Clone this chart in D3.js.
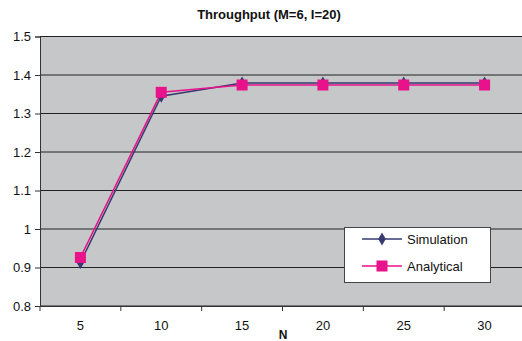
<!DOCTYPE html>
<html><head><meta charset="utf-8">
<script src="https://cdn.jsdelivr.net/npm/d3@7"></script>
<style>body{margin:0;background:#fff}svg{display:block;font-family:Arial,"Liberation Sans",sans-serif}</style>
</head><body>
<svg id="c" width="522" height="341"></svg>
<script>
const categories = [5, 10, 15, 20, 25, 30];
const simulation = [0.913, 1.345, 1.379, 1.379, 1.379, 1.379];
const analytical = [0.926, 1.355, 1.374, 1.374, 1.374, 1.374];
const yTicks = [0.8, 0.9, 1, 1.1, 1.2, 1.3, 1.4, 1.5];
const seriesNames = ["Simulation", "Analytical"];

const svg = d3.select("#c");
const L = 40, R = 525, T = 36.5, B = 306;
const x = d3.scaleBand().domain(categories).range([L, R]);
const y = d3.scaleLinear().domain([0.8, 1.5]).range([B, T]);

svg.append("rect").attr("x", L).attr("y", T).attr("width", R - L).attr("height", B - T).attr("fill", "#c6c7c9");

svg.append("g").selectAll("line").data(yTicks).join("line")
  .attr("x1", L).attr("x2", R).attr("y1", d => y(d)).attr("y2", d => y(d))
  .attr("stroke", "#222").attr("stroke-width", 1);

const ya = svg.append("g").attr("transform", `translate(${L},0)`)
  .call(d3.axisLeft(y).tickValues(yTicks).tickSize(5).tickPadding(4).tickFormat(d => String(d)));
ya.select(".domain").attr("stroke", "#333");
ya.selectAll("line").attr("stroke", "#333");
ya.selectAll("text").attr("font-size", 13).attr("fill", "#111").attr("font-family", "Arial, Liberation Sans, sans-serif");

const xa = svg.append("g").attr("transform", `translate(0,${B})`)
  .call(d3.axisBottom(x).tickSize(0).tickPadding(15));
xa.select(".domain").attr("stroke", "#333");
xa.selectAll("text").attr("font-size", 13).attr("fill", "#111").attr("font-family", "Arial, Liberation Sans, sans-serif");
const bounds = categories.map(c => x(c));
svg.append("g").selectAll("line").data(bounds).join("line")
  .attr("x1", d => d).attr("x2", d => d).attr("y1", B).attr("y2", B + 5).attr("stroke", "#333");

const cx = c => x(c) + x.bandwidth() / 2;
const line = d3.line().x((d, i) => cx(categories[i])).y(d => y(d));

const simColor = "#363a70", anaColor = "#e8128a";
svg.append("path").datum(simulation).attr("d", line).attr("fill", "none").attr("stroke", simColor).attr("stroke-width", 1.5);
svg.append("path").datum(analytical).attr("d", line).attr("fill", "none").attr("stroke", anaColor).attr("stroke-width", 1.5);

const diamond = d3.symbol().type(d3.symbolDiamond).size(50);
svg.append("g").selectAll("path").data(simulation).join("path")
  .attr("d", diamond).attr("transform", (d, i) => `translate(${cx(categories[i])},${y(d)})`).attr("fill", simColor);
svg.append("g").selectAll("rect").data(analytical).join("rect")
  .attr("x", (d, i) => cx(categories[i]) - 5.5).attr("y", d => y(d) - 5.5)
  .attr("width", 11).attr("height", 11).attr("fill", anaColor);

svg.append("text").attr("x", 269).attr("y", 19).attr("text-anchor", "middle")
  .attr("font-size", 13).attr("font-weight", "bold").attr("fill", "#111").text("Throughput (M=6, I=20)");
svg.append("text").attr("x", 283).attr("y", 339).attr("text-anchor", "middle")
  .attr("font-size", 12).attr("font-weight", "bold").attr("fill", "#111").text("N");

const lg = svg.append("g");
lg.append("rect").attr("x", 344.5).attr("y", 227.5).attr("width", 146).attr("height", 55)
  .attr("fill", "#fff").attr("stroke", "#444");
const rows = [239, 266];
seriesNames.forEach((n, i) => {
  const col = i === 0 ? simColor : anaColor;
  lg.append("line").attr("x1", 362).attr("x2", 402).attr("y1", rows[i]).attr("y2", rows[i]).attr("stroke", col).attr("stroke-width", 1.5);
  if (i === 0) lg.append("path").attr("d", diamond).attr("transform", `translate(382,${rows[i]})`).attr("fill", col);
  else lg.append("rect").attr("x", 376.5).attr("y", rows[i] - 5.5).attr("width", 11).attr("height", 11).attr("fill", col);
  lg.append("text").attr("x", 407).attr("y", rows[i] + 4.5).attr("font-size", 13).attr("fill", "#111").text(n);
});
</script>
</body></html>
